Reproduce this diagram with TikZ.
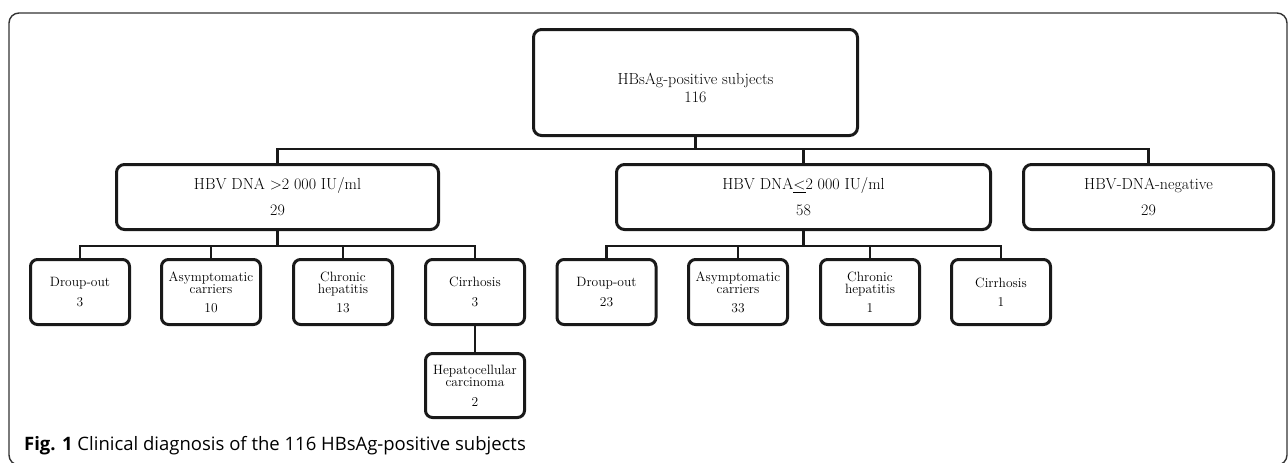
\documentclass[tikz,border=0pt]{standalone}
\usepackage{fontspec}
\newfontfamily\capfont{Open Sans}
\begin{document}
\begin{tikzpicture}[x=1pt,y=-1pt,
  box/.style={draw=black!90, line width=3pt, rounded corners=8pt, align=center, inner sep=0pt, text=black},
  topbox/.style={box},
  midbox/.style={box, font=\fontsize{16}{26}\selectfont, minimum height=65pt},
  leafbox/.style={box, font=\fontsize{13.5}{12.5}\selectfont, minimum width=99pt, minimum height=65pt, rounded corners=7pt},
  conn/.style={draw=black!90, line width=2.7pt},
  frame/.style={draw=black!80, line width=1.4pt, rounded corners=10pt}
]
\useasboundingbox (0,0) rectangle (1288,463);
\draw[frame] (9,13) rectangle (1287,465);

% root
\node[topbox, minimum width=324pt, minimum height=106pt] (root) at (695.5,82.5) {};
\node[align=center, inner sep=0pt, text=black, font=\fontsize{16}{18}\selectfont] (rootT) at (695.5,88) {HBsAg-positive subjects\\116};

% level 1
\node[midbox, minimum width=322pt] (dnaHigh) at (277.5,197) {HBV DNA >2~000 IU/ml\\29};
\node[midbox, minimum width=374pt] (dnaLow) at (803.5,197) {HBV DNA\underline{<}2~000 IU/ml\\58};
\node[midbox, minimum width=250pt] (dnaNeg) at (1148.5,197) {HBV-DNA-negative\\29};

% level 2 left
\node[leafbox] (a1) at (80,292) {Droup-out\\[7pt]3};
\node[leafbox] (a2) at (211,292) {Asymptomatic\\carriers\\[6pt]10};
\node[leafbox] (a3) at (343,292) {Chronic\\hepatitis\\[6pt]13};
\node[leafbox] (a4) at (475,292) {Cirrhosis\\[7pt]3};
\node[leafbox, minimum height=64pt] (a5) at (475,385.5) {Hepatocellular\\carcinoma\\[7pt]2};

% level 2 right
\node[leafbox] (b1) at (606.5,292) {Droup-out\\[7pt]23};
\node[leafbox] (b2) at (738,292) {Asymptomatic\\carriers\\[6pt]33};
\node[leafbox] (b3) at (870,292) {Chronic\\hepatitis\\[6pt]1};
\node[leafbox] (b4) at (1001,292) {Cirrhosis\\[7pt]1};

% connectors
\coordinate (busA) at (0,149);
\coordinate (busB) at (0,246);
\draw[conn] (root.south) -- (root.south |- busA);
\draw[conn] (dnaHigh.north) -- (dnaHigh.north |- busA) -- (dnaNeg.north |- busA) -- (dnaNeg.north);
\draw[conn] (dnaLow.north) -- (dnaLow.north |- busA);

\draw[conn] (dnaHigh.south) -- (dnaHigh.south |- busB);
\draw[conn] (a1.north) -- (a1.north |- busB) -- (a4.north |- busB) -- (a4.north);
\draw[conn] (a2.north) -- (a2.north |- busB);
\draw[conn] (a3.north) -- (a3.north |- busB);
\draw[conn] (a4.south) -- (a5.north);

\draw[conn] (dnaLow.south) -- (dnaLow.south |- busB);
\draw[conn] (b1.north) -- (b1.north |- busB) -- (b4.north |- busB) -- (b4.north);
\draw[conn] (b2.north) -- (b2.north |- busB);
\draw[conn] (b3.north) -- (b3.north |- busB);

% caption
\node[anchor=base west, inner sep=0pt, font=\capfont\fontsize{18.5}{20}\selectfont] (cap) at (24,450) {\textbf{Fig. 1} Clinical diagnosis of the 116 HBsAg-positive subjects};
\end{tikzpicture}
\end{document}
